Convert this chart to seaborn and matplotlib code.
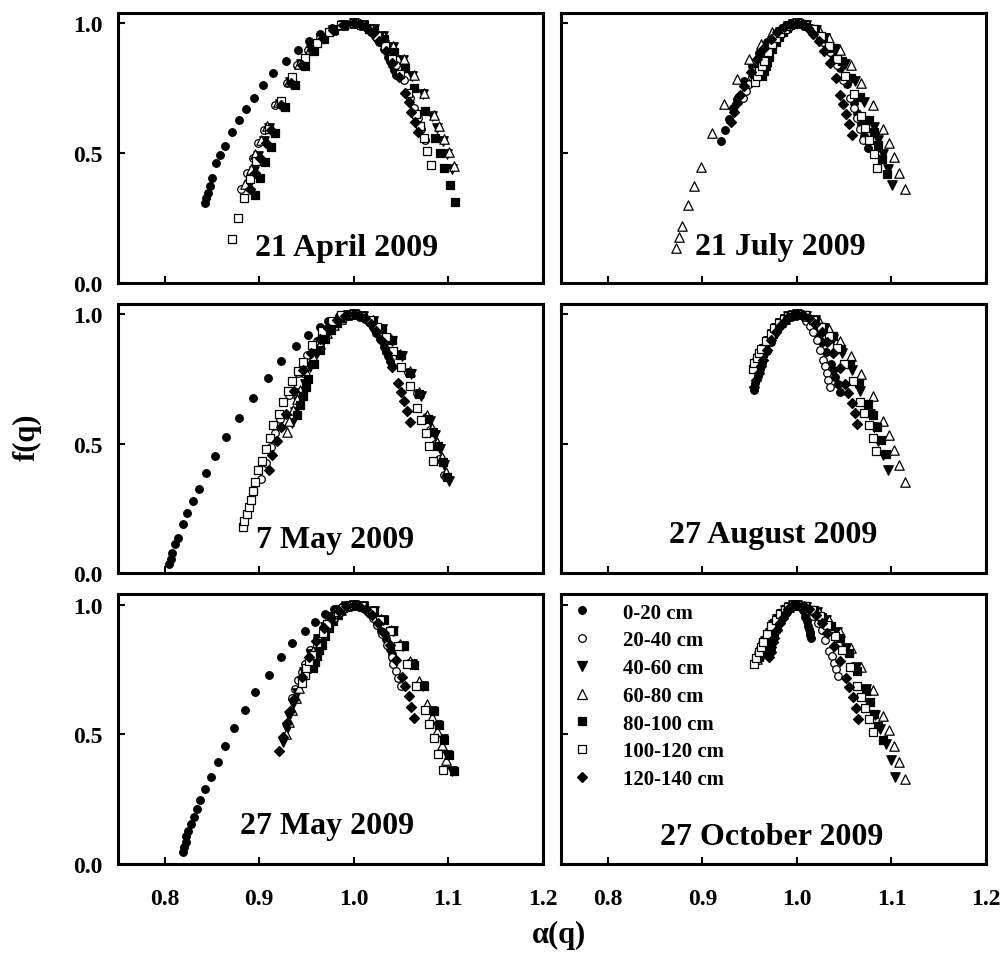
import matplotlib
matplotlib.use("Agg")
import matplotlib.pyplot as plt
from matplotlib.lines import Line2D
import seaborn as sns

# ---------------- data (alpha(q), f(q)) ----------------
depths = ["0-20 cm", "20-40 cm", "40-60 cm", "60-80 cm", "80-100 cm", "100-120 cm", "120-140 cm"]
panel_titles = ["21 April 2009", "21 July 2009", "7 May 2009", "27 August 2009", "27 May 2009", "27 October 2009"]
x_ticks = [0.8, 0.9, 1.0, 1.1, 1.2]
x_tick_labels = ["0.8", "0.9", "1.0", "1.1", "1.2"]
y_ticks = [0.0, 0.5, 1.0]
y_tick_labels = ["0.0", "0.5", "1.0"]

# 21 April 2009
apr21_d1_a = [0.843, 0.844, 0.846, 0.848, 0.850, 0.854, 0.858, 0.864, 0.871, 0.879, 0.886, 0.894, 0.904, 0.915, 0.928, 0.941, 0.953, 0.964, 0.977, 0.987, 0.998, 1.005, 1.009, 1.014, 1.018, 1.023, 1.027, 1.032, 1.036, 1.038, 1.041, 1.043, 1.045]
apr21_d1_f = [0.308, 0.327, 0.346, 0.372, 0.404, 0.462, 0.494, 0.526, 0.580, 0.627, 0.668, 0.712, 0.761, 0.810, 0.855, 0.897, 0.932, 0.960, 0.983, 0.996, 1.000, 0.998, 0.992, 0.982, 0.968, 0.950, 0.928, 0.902, 0.872, 0.856, 0.838, 0.820, 0.800]
apr21_d2_a = [0.881, 0.887, 0.893, 0.899, 0.905, 0.917, 0.929, 0.940, 0.952, 0.964, 0.976, 0.988, 1.000, 1.008, 1.015, 1.023, 1.030, 1.038, 1.045, 1.053, 1.060, 1.064, 1.068, 1.071, 1.075]
apr21_d2_f = [0.360, 0.422, 0.482, 0.538, 0.590, 0.686, 0.770, 0.840, 0.898, 0.942, 0.974, 0.994, 1.000, 0.996, 0.982, 0.960, 0.928, 0.888, 0.838, 0.780, 0.712, 0.675, 0.636, 0.594, 0.550]
apr21_d3_a = [0.888, 0.894, 0.899, 0.905, 0.910, 0.922, 0.933, 0.944, 0.955, 0.966, 0.978, 0.989, 1.000, 1.010, 1.021, 1.031, 1.042, 1.052, 1.062, 1.073, 1.083, 1.088, 1.094, 1.099, 1.104]
apr21_d3_f = [0.370, 0.431, 0.490, 0.545, 0.597, 0.691, 0.773, 0.842, 0.899, 0.943, 0.975, 0.994, 1.000, 0.994, 0.978, 0.950, 0.910, 0.860, 0.798, 0.726, 0.642, 0.595, 0.546, 0.495, 0.440]
apr21_d4_a = [0.885, 0.891, 0.896, 0.902, 0.908, 0.920, 0.931, 0.942, 0.954, 0.966, 0.977, 0.989, 1.000, 1.011, 1.021, 1.032, 1.042, 1.053, 1.064, 1.074, 1.085, 1.090, 1.095, 1.101, 1.106]
apr21_d4_f = [0.380, 0.440, 0.498, 0.552, 0.603, 0.696, 0.777, 0.845, 0.901, 0.944, 0.975, 0.994, 1.000, 0.994, 0.978, 0.950, 0.912, 0.862, 0.802, 0.730, 0.648, 0.603, 0.554, 0.504, 0.450]
apr21_d5_a = [0.896, 0.901, 0.906, 0.912, 0.917, 0.927, 0.938, 0.948, 0.958, 0.969, 0.979, 0.990, 1.000, 1.011, 1.021, 1.032, 1.043, 1.054, 1.064, 1.075, 1.086, 1.091, 1.096, 1.102, 1.107]
apr21_d5_f = [0.340, 0.404, 0.465, 0.523, 0.578, 0.677, 0.762, 0.835, 0.894, 0.941, 0.974, 0.993, 1.000, 0.993, 0.972, 0.938, 0.890, 0.828, 0.752, 0.662, 0.558, 0.501, 0.441, 0.377, 0.310]
apr21_d6_a = [0.871, 0.877, 0.884, 0.890, 0.897, 0.910, 0.923, 0.935, 0.948, 0.961, 0.974, 0.987, 1.000, 1.008, 1.016, 1.025, 1.033, 1.041, 1.049, 1.057, 1.066, 1.070, 1.074, 1.078, 1.082]
apr21_d6_f = [0.170, 0.251, 0.328, 0.400, 0.469, 0.593, 0.701, 0.792, 0.867, 0.925, 0.967, 0.992, 1.000, 0.995, 0.978, 0.951, 0.913, 0.864, 0.804, 0.733, 0.651, 0.606, 0.559, 0.508, 0.455]
apr21_d7_a = [0.890, 0.896, 0.901, 0.907, 0.912, 0.923, 0.934, 0.945, 0.956, 0.967, 0.978, 0.989, 1.000, 1.007, 1.014, 1.020, 1.027, 1.034, 1.041, 1.048, 1.054, 1.058, 1.061, 1.065, 1.068]
apr21_d7_f = [0.360, 0.422, 0.482, 0.538, 0.590, 0.686, 0.770, 0.840, 0.898, 0.942, 0.974, 0.994, 1.000, 0.996, 0.983, 0.962, 0.933, 0.895, 0.849, 0.794, 0.731, 0.696, 0.660, 0.621, 0.580]

# 21 July 2009
jul21_d1_a = [0.920, 0.924, 0.928, 0.932, 0.936, 0.944, 0.952, 0.960, 0.968, 0.976, 0.984, 0.992, 1.000, 1.008, 1.015, 1.023, 1.030, 1.038, 1.045, 1.053, 1.060, 1.064, 1.068, 1.071, 1.075]
jul21_d1_f = [0.546, 0.590, 0.632, 0.672, 0.709, 0.778, 0.837, 0.887, 0.927, 0.959, 0.982, 0.995, 1.000, 0.995, 0.981, 0.957, 0.923, 0.880, 0.827, 0.765, 0.693, 0.653, 0.611, 0.567, 0.520]
jul21_d2_a = [0.943, 0.946, 0.949, 0.952, 0.954, 0.960, 0.966, 0.972, 0.977, 0.983, 0.989, 0.994, 1.000, 1.007, 1.014, 1.021, 1.028, 1.035, 1.042, 1.049, 1.056, 1.060, 1.063, 1.067, 1.070]
jul21_d2_f = [0.713, 0.741, 0.767, 0.793, 0.816, 0.859, 0.897, 0.928, 0.954, 0.974, 0.989, 0.997, 1.000, 0.996, 0.982, 0.960, 0.928, 0.888, 0.838, 0.780, 0.712, 0.675, 0.636, 0.594, 0.550]
jul21_d3_a = [0.955, 0.957, 0.960, 0.962, 0.964, 0.968, 0.973, 0.978, 0.982, 0.987, 0.991, 0.996, 1.000, 1.010, 1.020, 1.030, 1.040, 1.051, 1.061, 1.071, 1.081, 1.086, 1.091, 1.096, 1.101]
jul21_d3_f = [0.780, 0.801, 0.822, 0.841, 0.859, 0.892, 0.921, 0.945, 0.965, 0.980, 0.991, 0.998, 1.000, 0.994, 0.975, 0.944, 0.900, 0.844, 0.776, 0.695, 0.602, 0.551, 0.496, 0.439, 0.378]
jul21_d4_a = [0.872, 0.875, 0.878, 0.885, 0.891, 0.898, 0.910, 0.923, 0.936, 0.949, 0.962, 0.974, 0.987, 1.000, 1.011, 1.023, 1.034, 1.046, 1.057, 1.068, 1.080, 1.091, 1.097, 1.103, 1.108, 1.114]
jul21_d4_f = [0.134, 0.177, 0.218, 0.298, 0.374, 0.446, 0.576, 0.688, 0.784, 0.861, 0.922, 0.965, 0.991, 1.000, 0.994, 0.974, 0.943, 0.898, 0.840, 0.770, 0.687, 0.592, 0.539, 0.483, 0.424, 0.362]
jul21_d5_a = [0.963, 0.965, 0.967, 0.968, 0.970, 0.974, 0.978, 0.981, 0.985, 0.989, 0.993, 0.996, 1.000, 1.010, 1.019, 1.028, 1.038, 1.048, 1.057, 1.067, 1.076, 1.081, 1.086, 1.090, 1.095]
jul21_d5_f = [0.797, 0.817, 0.836, 0.853, 0.870, 0.900, 0.927, 0.949, 0.967, 0.982, 0.992, 0.998, 1.000, 0.994, 0.977, 0.948, 0.907, 0.855, 0.791, 0.716, 0.629, 0.581, 0.530, 0.477, 0.420]
jul21_d6_a = [0.956, 0.958, 0.960, 0.963, 0.965, 0.969, 0.974, 0.978, 0.982, 0.987, 0.991, 0.996, 1.000, 1.009, 1.017, 1.025, 1.034, 1.042, 1.051, 1.060, 1.068, 1.072, 1.076, 1.081, 1.085]
jul21_d6_f = [0.774, 0.796, 0.817, 0.837, 0.855, 0.889, 0.919, 0.943, 0.964, 0.980, 0.991, 0.998, 1.000, 0.994, 0.978, 0.950, 0.911, 0.861, 0.799, 0.727, 0.643, 0.598, 0.549, 0.497, 0.443]
jul21_d7_a = [0.930, 0.933, 0.937, 0.940, 0.944, 0.951, 0.958, 0.965, 0.972, 0.979, 0.986, 0.993, 1.000, 1.006, 1.012, 1.017, 1.023, 1.029, 1.035, 1.041, 1.046, 1.049, 1.052, 1.055, 1.058]
jul21_d7_f = [0.620, 0.657, 0.692, 0.725, 0.757, 0.814, 0.863, 0.905, 0.939, 0.966, 0.985, 0.996, 1.000, 0.996, 0.983, 0.961, 0.931, 0.893, 0.846, 0.790, 0.725, 0.690, 0.652, 0.613, 0.571]

# 7 May 2009
may07_d1_a = [0.805, 0.807, 0.808, 0.811, 0.814, 0.819, 0.824, 0.830, 0.836, 0.844, 0.853, 0.865, 0.879, 0.893, 0.909, 0.923, 0.939, 0.952, 0.964, 0.973, 0.984, 0.998, 1.004, 1.008, 1.012, 1.016, 1.020, 1.024, 1.028, 1.032, 1.034, 1.036, 1.038, 1.040]
may07_d1_f = [0.035, 0.057, 0.080, 0.112, 0.138, 0.190, 0.233, 0.278, 0.326, 0.386, 0.451, 0.526, 0.601, 0.678, 0.755, 0.819, 0.875, 0.920, 0.952, 0.974, 0.991, 1.000, 0.998, 0.992, 0.982, 0.968, 0.950, 0.928, 0.902, 0.872, 0.856, 0.838, 0.820, 0.800]
may07_d2_a = [0.902, 0.907, 0.912, 0.917, 0.922, 0.931, 0.941, 0.951, 0.961, 0.971, 0.980, 0.990, 1.000, 1.010, 1.019, 1.028, 1.038, 1.048, 1.057, 1.067, 1.076, 1.081, 1.086, 1.090, 1.095]
may07_d2_f = [0.365, 0.427, 0.486, 0.541, 0.594, 0.689, 0.771, 0.841, 0.898, 0.943, 0.975, 0.994, 1.000, 0.994, 0.975, 0.944, 0.901, 0.845, 0.777, 0.696, 0.603, 0.552, 0.498, 0.440, 0.380]
may07_d3_a = [0.935, 0.938, 0.941, 0.945, 0.948, 0.954, 0.961, 0.967, 0.974, 0.980, 0.987, 0.994, 1.000, 1.010, 1.020, 1.030, 1.040, 1.051, 1.061, 1.071, 1.081, 1.086, 1.091, 1.096, 1.101]
may07_d3_f = [0.580, 0.621, 0.660, 0.696, 0.731, 0.794, 0.849, 0.895, 0.933, 0.962, 0.983, 0.996, 1.000, 0.994, 0.974, 0.942, 0.897, 0.839, 0.768, 0.684, 0.587, 0.534, 0.478, 0.418, 0.355]
may07_d4_a = [0.929, 0.932, 0.936, 0.940, 0.943, 0.950, 0.957, 0.964, 0.972, 0.979, 0.986, 0.993, 1.000, 1.010, 1.020, 1.029, 1.039, 1.049, 1.059, 1.069, 1.078, 1.083, 1.088, 1.093, 1.098]
may07_d4_f = [0.545, 0.589, 0.631, 0.671, 0.709, 0.777, 0.836, 0.886, 0.927, 0.959, 0.982, 0.995, 1.000, 0.994, 0.976, 0.945, 0.902, 0.847, 0.780, 0.701, 0.610, 0.559, 0.506, 0.449, 0.390]
may07_d5_a = [0.940, 0.943, 0.946, 0.949, 0.952, 0.958, 0.964, 0.970, 0.976, 0.982, 0.988, 0.994, 1.000, 1.010, 1.020, 1.030, 1.040, 1.050, 1.059, 1.069, 1.079, 1.084, 1.089, 1.094, 1.099]
may07_d5_f = [0.610, 0.648, 0.684, 0.718, 0.750, 0.809, 0.860, 0.902, 0.938, 0.965, 0.984, 0.996, 1.000, 0.994, 0.975, 0.943, 0.899, 0.842, 0.773, 0.691, 0.597, 0.545, 0.490, 0.431, 0.370]
may07_d6_a = [0.883, 0.884, 0.887, 0.889, 0.891, 0.893, 0.895, 0.899, 0.903, 0.907, 0.911, 0.915, 0.921, 0.925, 0.930, 0.935, 0.941, 0.946, 0.956, 0.966, 0.977, 0.987, 1.000, 1.008, 1.017, 1.025, 1.034, 1.042, 1.050, 1.059, 1.067, 1.071, 1.076, 1.080, 1.084]
may07_d6_f = [0.177, 0.203, 0.229, 0.255, 0.284, 0.319, 0.354, 0.397, 0.435, 0.481, 0.523, 0.571, 0.613, 0.662, 0.703, 0.742, 0.780, 0.817, 0.881, 0.933, 0.972, 0.995, 1.000, 0.994, 0.977, 0.949, 0.910, 0.859, 0.797, 0.723, 0.638, 0.592, 0.542, 0.490, 0.435]
may07_d7_a = [0.910, 0.914, 0.919, 0.923, 0.928, 0.937, 0.946, 0.955, 0.964, 0.973, 0.982, 0.991, 1.000, 1.006, 1.012, 1.018, 1.024, 1.030, 1.035, 1.041, 1.047, 1.050, 1.053, 1.056, 1.059]
may07_d7_f = [0.397, 0.456, 0.512, 0.564, 0.614, 0.704, 0.783, 0.849, 0.903, 0.946, 0.976, 0.994, 1.000, 0.996, 0.983, 0.963, 0.933, 0.896, 0.850, 0.796, 0.734, 0.699, 0.663, 0.625, 0.584]

# 27 August 2009
aug27_d1_a = [0.954, 0.956, 0.959, 0.961, 0.963, 0.968, 0.972, 0.977, 0.982, 0.986, 0.991, 0.995, 1.000, 1.005, 1.009, 1.014, 1.018, 1.022, 1.027, 1.031, 1.036, 1.038, 1.040, 1.043, 1.045]
aug27_d1_f = [0.707, 0.736, 0.763, 0.788, 0.812, 0.856, 0.894, 0.927, 0.953, 0.974, 0.988, 0.997, 1.000, 0.997, 0.988, 0.973, 0.952, 0.925, 0.892, 0.853, 0.808, 0.783, 0.757, 0.729, 0.700]
aug27_d2_a = [0.953, 0.955, 0.958, 0.960, 0.962, 0.967, 0.972, 0.976, 0.981, 0.986, 0.991, 0.995, 1.000, 1.004, 1.007, 1.010, 1.014, 1.017, 1.021, 1.024, 1.028, 1.030, 1.032, 1.033, 1.035]
aug27_d2_f = [0.797, 0.817, 0.836, 0.853, 0.870, 0.900, 0.927, 0.949, 0.967, 0.982, 0.992, 0.998, 1.000, 0.997, 0.989, 0.975, 0.955, 0.930, 0.899, 0.863, 0.821, 0.798, 0.773, 0.747, 0.720]
aug27_d3_a = [0.956, 0.958, 0.960, 0.963, 0.965, 0.969, 0.974, 0.978, 0.982, 0.987, 0.991, 0.996, 1.000, 1.010, 1.019, 1.029, 1.038, 1.048, 1.058, 1.067, 1.077, 1.082, 1.086, 1.091, 1.096]
aug27_d3_f = [0.790, 0.810, 0.830, 0.848, 0.866, 0.897, 0.924, 0.947, 0.966, 0.981, 0.992, 0.998, 1.000, 0.994, 0.976, 0.946, 0.903, 0.849, 0.783, 0.704, 0.614, 0.564, 0.512, 0.456, 0.397]
aug27_d4_a = [0.957, 0.959, 0.961, 0.963, 0.966, 0.970, 0.974, 0.978, 0.983, 0.987, 0.991, 0.996, 1.000, 1.011, 1.023, 1.034, 1.046, 1.057, 1.068, 1.080, 1.091, 1.097, 1.103, 1.108, 1.114]
aug27_d4_f = [0.800, 0.819, 0.838, 0.855, 0.872, 0.902, 0.928, 0.950, 0.968, 0.982, 0.992, 0.998, 1.000, 0.994, 0.974, 0.942, 0.897, 0.838, 0.767, 0.684, 0.587, 0.533, 0.477, 0.417, 0.354]
aug27_d5_a = [0.958, 0.960, 0.962, 0.964, 0.966, 0.971, 0.975, 0.979, 0.983, 0.987, 0.992, 0.996, 1.000, 1.009, 1.019, 1.028, 1.038, 1.047, 1.056, 1.066, 1.075, 1.080, 1.085, 1.089, 1.094]
aug27_d5_f = [0.790, 0.810, 0.830, 0.848, 0.866, 0.897, 0.924, 0.947, 0.966, 0.981, 0.992, 0.998, 1.000, 0.995, 0.978, 0.951, 0.914, 0.865, 0.806, 0.735, 0.654, 0.610, 0.563, 0.513, 0.460]
aug27_d6_a = [0.953, 0.955, 0.958, 0.960, 0.962, 0.967, 0.972, 0.976, 0.981, 0.986, 0.991, 0.995, 1.000, 1.008, 1.017, 1.025, 1.034, 1.042, 1.050, 1.059, 1.067, 1.071, 1.076, 1.080, 1.084]
aug27_d6_f = [0.790, 0.810, 0.830, 0.848, 0.866, 0.897, 0.924, 0.947, 0.966, 0.981, 0.992, 0.998, 1.000, 0.995, 0.979, 0.952, 0.915, 0.868, 0.809, 0.740, 0.661, 0.617, 0.571, 0.522, 0.470]
aug27_d7_a = [0.955, 0.957, 0.960, 0.962, 0.964, 0.968, 0.973, 0.978, 0.982, 0.987, 0.991, 0.996, 1.000, 1.006, 1.013, 1.019, 1.026, 1.032, 1.038, 1.045, 1.051, 1.054, 1.058, 1.061, 1.064]
aug27_d7_f = [0.720, 0.747, 0.773, 0.798, 0.821, 0.863, 0.899, 0.930, 0.955, 0.975, 0.989, 0.997, 1.000, 0.996, 0.983, 0.962, 0.932, 0.894, 0.848, 0.793, 0.729, 0.694, 0.657, 0.618, 0.577]

# 27 May 2009
may27_d1_a = [0.819, 0.820, 0.822, 0.823, 0.825, 0.828, 0.831, 0.834, 0.837, 0.843, 0.849, 0.856, 0.864, 0.873, 0.885, 0.896, 0.910, 0.923, 0.935, 0.948, 0.959, 0.970, 0.979, 0.989, 1.000, 1.004, 1.008, 1.013, 1.017, 1.021, 1.025, 1.029, 1.034, 1.036, 1.038, 1.040, 1.042]
may27_d1_f = [0.045, 0.065, 0.084, 0.107, 0.129, 0.155, 0.181, 0.213, 0.248, 0.288, 0.337, 0.394, 0.455, 0.523, 0.594, 0.663, 0.730, 0.797, 0.851, 0.898, 0.934, 0.963, 0.982, 0.995, 1.000, 0.998, 0.992, 0.981, 0.966, 0.948, 0.924, 0.897, 0.866, 0.848, 0.830, 0.810, 0.790]
may27_d2_a = [0.935, 0.938, 0.941, 0.945, 0.948, 0.954, 0.961, 0.967, 0.974, 0.980, 0.987, 0.994, 1.000, 1.005, 1.010, 1.015, 1.020, 1.025, 1.030, 1.035, 1.040, 1.042, 1.045, 1.047, 1.050]
may27_d2_f = [0.640, 0.675, 0.708, 0.740, 0.770, 0.824, 0.870, 0.910, 0.942, 0.968, 0.986, 0.996, 1.000, 0.997, 0.987, 0.972, 0.950, 0.921, 0.887, 0.846, 0.798, 0.772, 0.745, 0.716, 0.685]
may27_d3_a = [0.925, 0.929, 0.932, 0.936, 0.940, 0.947, 0.955, 0.962, 0.970, 0.977, 0.985, 0.992, 1.000, 1.010, 1.021, 1.031, 1.042, 1.052, 1.062, 1.073, 1.083, 1.088, 1.094, 1.099, 1.104]
may27_d3_f = [0.470, 0.522, 0.571, 0.617, 0.661, 0.740, 0.809, 0.867, 0.915, 0.952, 0.979, 0.995, 1.000, 0.994, 0.974, 0.942, 0.898, 0.840, 0.770, 0.686, 0.590, 0.538, 0.482, 0.422, 0.360]
may27_d4_a = [0.928, 0.932, 0.935, 0.939, 0.942, 0.950, 0.957, 0.964, 0.971, 0.978, 0.986, 0.993, 1.000, 1.010, 1.020, 1.029, 1.039, 1.049, 1.059, 1.069, 1.078, 1.083, 1.088, 1.093, 1.098]
may27_d4_f = [0.500, 0.549, 0.595, 0.639, 0.680, 0.755, 0.820, 0.875, 0.920, 0.955, 0.980, 0.995, 1.000, 0.994, 0.976, 0.946, 0.904, 0.850, 0.784, 0.706, 0.616, 0.567, 0.514, 0.458, 0.400]
may27_d5_a = [0.957, 0.959, 0.961, 0.963, 0.966, 0.970, 0.974, 0.978, 0.983, 0.987, 0.991, 0.996, 1.000, 1.011, 1.021, 1.032, 1.042, 1.053, 1.064, 1.074, 1.085, 1.090, 1.095, 1.101, 1.106]
may27_d5_f = [0.756, 0.780, 0.802, 0.824, 0.844, 0.880, 0.912, 0.939, 0.961, 0.978, 0.990, 0.998, 1.000, 0.994, 0.974, 0.942, 0.897, 0.839, 0.769, 0.685, 0.589, 0.536, 0.480, 0.421, 0.358]
may27_d6_a = [0.945, 0.948, 0.950, 0.953, 0.956, 0.961, 0.967, 0.972, 0.978, 0.983, 0.989, 0.994, 1.000, 1.009, 1.019, 1.028, 1.038, 1.047, 1.056, 1.066, 1.075, 1.080, 1.085, 1.089, 1.094]
may27_d6_f = [0.700, 0.729, 0.757, 0.783, 0.808, 0.853, 0.892, 0.925, 0.952, 0.973, 0.988, 0.997, 1.000, 0.994, 0.975, 0.943, 0.898, 0.841, 0.771, 0.688, 0.593, 0.540, 0.485, 0.426, 0.364]
may27_d7_a = [0.921, 0.925, 0.929, 0.933, 0.937, 0.945, 0.953, 0.960, 0.968, 0.976, 0.984, 0.992, 1.000, 1.006, 1.013, 1.019, 1.026, 1.032, 1.038, 1.045, 1.051, 1.054, 1.058, 1.061, 1.064]
may27_d7_f = [0.435, 0.490, 0.542, 0.592, 0.638, 0.723, 0.797, 0.859, 0.910, 0.949, 0.977, 0.994, 1.000, 0.996, 0.983, 0.961, 0.930, 0.891, 0.843, 0.787, 0.722, 0.686, 0.648, 0.607, 0.565]

# 27 October 2009
oct27_d1_a = [0.970, 0.972, 0.973, 0.975, 0.976, 0.979, 0.982, 0.985, 0.988, 0.991, 0.994, 0.997, 1.000, 1.002, 1.003, 1.005, 1.006, 1.008, 1.009, 1.011, 1.012, 1.013, 1.014, 1.014, 1.015]
oct27_d1_f = [0.810, 0.828, 0.846, 0.863, 0.878, 0.907, 0.932, 0.952, 0.970, 0.983, 0.992, 0.998, 1.000, 0.999, 0.995, 0.988, 0.980, 0.968, 0.954, 0.937, 0.918, 0.908, 0.896, 0.884, 0.872]
oct27_d2_a = [0.955, 0.957, 0.960, 0.962, 0.964, 0.968, 0.973, 0.978, 0.982, 0.987, 0.991, 0.996, 1.000, 1.004, 1.009, 1.013, 1.017, 1.022, 1.026, 1.030, 1.034, 1.037, 1.039, 1.041, 1.043]
oct27_d2_f = [0.775, 0.797, 0.818, 0.837, 0.856, 0.890, 0.919, 0.944, 0.964, 0.980, 0.991, 0.998, 1.000, 0.997, 0.989, 0.975, 0.956, 0.931, 0.901, 0.865, 0.823, 0.801, 0.776, 0.751, 0.724]
oct27_d3_a = [0.958, 0.960, 0.962, 0.964, 0.966, 0.971, 0.975, 0.979, 0.983, 0.987, 0.992, 0.996, 1.000, 1.010, 1.021, 1.031, 1.042, 1.052, 1.062, 1.073, 1.083, 1.088, 1.094, 1.099, 1.104]
oct27_d3_f = [0.780, 0.801, 0.822, 0.841, 0.859, 0.892, 0.921, 0.945, 0.965, 0.980, 0.991, 0.998, 1.000, 0.993, 0.973, 0.940, 0.894, 0.834, 0.761, 0.675, 0.575, 0.520, 0.462, 0.401, 0.336]
oct27_d4_a = [0.958, 0.960, 0.962, 0.964, 0.966, 0.971, 0.975, 0.979, 0.983, 0.987, 0.992, 0.996, 1.000, 1.011, 1.023, 1.034, 1.046, 1.057, 1.068, 1.080, 1.091, 1.097, 1.103, 1.108, 1.114]
oct27_d4_f = [0.790, 0.810, 0.830, 0.848, 0.866, 0.897, 0.924, 0.947, 0.966, 0.981, 0.992, 0.998, 1.000, 0.993, 0.973, 0.940, 0.893, 0.832, 0.758, 0.671, 0.571, 0.515, 0.456, 0.394, 0.329]
oct27_d5_a = [0.960, 0.962, 0.964, 0.966, 0.968, 0.972, 0.976, 0.980, 0.984, 0.988, 0.992, 0.996, 1.000, 1.009, 1.018, 1.027, 1.036, 1.045, 1.055, 1.064, 1.073, 1.077, 1.082, 1.086, 1.091]
oct27_d5_f = [0.800, 0.819, 0.838, 0.855, 0.872, 0.902, 0.928, 0.950, 0.968, 0.982, 0.992, 0.998, 1.000, 0.995, 0.979, 0.953, 0.917, 0.870, 0.813, 0.745, 0.667, 0.624, 0.579, 0.531, 0.480]
oct27_d6_a = [0.955, 0.957, 0.960, 0.962, 0.964, 0.968, 0.973, 0.978, 0.982, 0.987, 0.991, 0.996, 1.000, 1.008, 1.016, 1.024, 1.032, 1.040, 1.048, 1.056, 1.064, 1.068, 1.072, 1.076, 1.080]
oct27_d6_f = [0.773, 0.795, 0.816, 0.836, 0.855, 0.889, 0.918, 0.943, 0.964, 0.980, 0.991, 0.998, 1.000, 0.995, 0.980, 0.956, 0.922, 0.878, 0.824, 0.760, 0.686, 0.646, 0.603, 0.558, 0.510]
oct27_d7_a = [0.970, 0.972, 0.973, 0.975, 0.976, 0.979, 0.982, 0.985, 0.988, 0.991, 0.994, 0.997, 1.000, 1.007, 1.013, 1.020, 1.026, 1.032, 1.039, 1.045, 1.052, 1.055, 1.059, 1.062, 1.065]
oct27_d7_f = [0.800, 0.819, 0.838, 0.855, 0.872, 0.902, 0.928, 0.950, 0.968, 0.982, 0.992, 0.998, 1.000, 0.996, 0.982, 0.960, 0.929, 0.890, 0.841, 0.784, 0.718, 0.681, 0.643, 0.602, 0.559]

# title positions (alpha, f) inside each panel
title_pos = [(0.992, 0.135), (0.982, 0.140), (0.980, 0.132), (0.975, 0.151), (0.972, 0.147), (0.973, 0.105)]

panels = [
    [(apr21_d1_a, apr21_d1_f), (apr21_d2_a, apr21_d2_f), (apr21_d3_a, apr21_d3_f), (apr21_d4_a, apr21_d4_f),
     (apr21_d5_a, apr21_d5_f), (apr21_d6_a, apr21_d6_f), (apr21_d7_a, apr21_d7_f)],
    [(jul21_d1_a, jul21_d1_f), (jul21_d2_a, jul21_d2_f), (jul21_d3_a, jul21_d3_f), (jul21_d4_a, jul21_d4_f),
     (jul21_d5_a, jul21_d5_f), (jul21_d6_a, jul21_d6_f), (jul21_d7_a, jul21_d7_f)],
    [(may07_d1_a, may07_d1_f), (may07_d2_a, may07_d2_f), (may07_d3_a, may07_d3_f), (may07_d4_a, may07_d4_f),
     (may07_d5_a, may07_d5_f), (may07_d6_a, may07_d6_f), (may07_d7_a, may07_d7_f)],
    [(aug27_d1_a, aug27_d1_f), (aug27_d2_a, aug27_d2_f), (aug27_d3_a, aug27_d3_f), (aug27_d4_a, aug27_d4_f),
     (aug27_d5_a, aug27_d5_f), (aug27_d6_a, aug27_d6_f), (aug27_d7_a, aug27_d7_f)],
    [(may27_d1_a, may27_d1_f), (may27_d2_a, may27_d2_f), (may27_d3_a, may27_d3_f), (may27_d4_a, may27_d4_f),
     (may27_d5_a, may27_d5_f), (may27_d6_a, may27_d6_f), (may27_d7_a, may27_d7_f)],
    [(oct27_d1_a, oct27_d1_f), (oct27_d2_a, oct27_d2_f), (oct27_d3_a, oct27_d3_f), (oct27_d4_a, oct27_d4_f),
     (oct27_d5_a, oct27_d5_f), (oct27_d6_a, oct27_d6_f), (oct27_d7_a, oct27_d7_f)],
]

# ---------------- style ----------------
sns.set_style("ticks")
plt.rcParams["font.family"] = ["Liberation Serif", "DejaVu Serif"]
plt.rcParams["font.weight"] = "bold"
plt.rcParams["axes.labelweight"] = "bold"
for key in ["text.color", "axes.labelcolor", "xtick.color", "ytick.color", "axes.edgecolor"]:
    plt.rcParams[key] = "black"

# marker, face colour, size (pt^2)
marker_styles = [("o", "black", 30), ("o", "white", 30), ("v", "black", 46), ("^", "white", 46),
                 ("s", "black", 36), ("s", "white", 36), ("D", "black", 26)]

fig, axes = plt.subplots(3, 2, figsize=(10.06, 9.54), dpi=100)
fig.subplots_adjust(left=0.1168, right=0.9801, top=0.9853, bottom=0.0933, wspace=0.0423, hspace=0.078)

for i, ax in enumerate(axes.flat):
    row, col = divmod(i, 2)
    for (a_vals, f_vals), (mk, face, size) in zip(panels[i], marker_styles):
        assert len(a_vals) == len(f_vals)
        sns.scatterplot(x=a_vals, y=f_vals, ax=ax, marker=mk, color=face, edgecolor="black",
                        linewidth=0.9, s=size, legend=False, zorder=3)
    ax.set_xlim(0.75, 1.2)
    ax.set_ylim(0.0, 1.04)
    ax.set_xticks(x_ticks)
    ax.set_yticks(y_ticks)
    if row == 2:
        ax.set_xticklabels(x_tick_labels)
    else:
        ax.set_xticklabels([])
    if col == 0:
        ax.set_yticklabels(y_tick_labels)
    else:
        ax.set_yticklabels([])
    ax.tick_params(direction="in", length=5, width=1.5, labelsize=17, top=False, right=False,
                   colors="black")
    ax.tick_params(axis="x", pad=17)
    ax.tick_params(axis="y", pad=10.5)
    for lab in ax.get_xticklabels() + ax.get_yticklabels():
        lab.set_fontweight("bold")
    for sp in ax.spines.values():
        sp.set_visible(True)
        sp.set_linewidth(2.2)
        sp.set_color("black")
    ax.set_xlabel("")
    ax.set_ylabel("")
    tx, ty = title_pos[i]
    ax.text(tx, ty, panel_titles[i], ha="center", va="center", fontsize=23, fontweight="bold",
            color="black")

# legend in last panel
handles = []
for (mk, face, size), lab in zip(marker_styles, depths):
    handles.append(Line2D([0], [0], marker=mk, linestyle="none", markerfacecolor=face,
                          markeredgecolor="black", markeredgewidth=0.9, markersize=size ** 0.5,
                          label=lab))
leg = axes[2, 1].legend(handles=handles, loc="upper left", bbox_to_anchor=(0.0, 1.0), frameon=False,
                        prop={"weight": "bold", "size": 15}, handletextpad=1.4, labelspacing=0.37,
                        borderaxespad=0.0, handlelength=1.2)
for t in leg.get_texts():
    t.set_color("black")

fig.text(0.0275, 0.5414, "f(q)", rotation=90, ha="center", va="center", fontsize=22, fontweight="bold",
         color="black")
fig.text(0.556, 0.019, "α(q)", ha="center", va="center", fontsize=22, fontweight="bold", color="black")

fig.savefig("out.png", dpi=100)
